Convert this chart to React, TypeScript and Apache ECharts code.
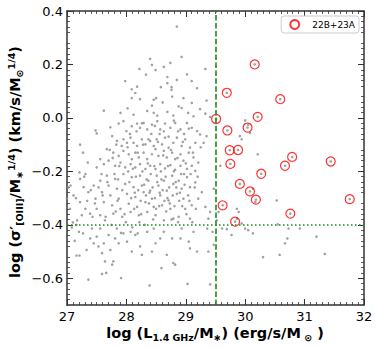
import React, { useEffect, useRef } from "react";
import * as echarts from "echarts";

const xTicks = [27, 28, 29, 30, 31, 32];
const yTicks = [-0.6, -0.4, -0.2, 0, 0.2, 0.4];
const legendName = "22B+23A";
const xCut = 29.5;
const yCut = -0.4;

const circlePts: number[][] = [
  [29.51, -0.004], [29.69, 0.094], [30.16, 0.2], [30.59, 0.07], [30.21, 0.004],
  [29.7, -0.047], [30.04, -0.036], [29.74, -0.121], [29.88, -0.12], [29.75, -0.172],
  [30.79, -0.146], [30.67, -0.179], [30.27, -0.209], [31.44, -0.163], [29.91, -0.247],
  [30.08, -0.275], [30.18, -0.306], [29.62, -0.327], [29.83, -0.388], [30.76, -0.358],
  [31.76, -0.304],
];

const grayPts: number[][] = [
  [28.85, 0.342], [28.93, 0.228], [28.40, 0.221], [28.43, 0.198], [28.74, 0.206], [28.49, 0.179],
  [28.22, 0.183], [28.63, 0.191], [29.02, 0.163], [28.33, 0.162], [29.33, 0.183], [27.98, 0.138],
  [28.69, 0.153], [28.85, 0.142], [29.10, 0.138], [28.69, 0.130], [28.18, 0.117], [28.09, 0.107],
  [28.58, 0.115], [28.76, 0.115], [28.76, 0.105], [29.19, 0.111], [28.15, 0.093], [28.09, 0.074],
  [28.23, 0.070], [28.46, 0.068], [28.50, 0.074], [28.77, 0.080], [28.96, 0.074], [28.88, 0.043],
  [28.61, 0.058], [29.10, 0.056], [29.35, 0.065], [28.43, 0.046], [27.62, 0.027], [28.02, 0.036],
  [28.35, 0.026], [28.46, 0.019], [28.69, 0.023], [28.93, 0.037], [29.04, 0.019], [29.24, 0.033],
  [28.52, 0.009], [28.79, 0.009], [29.13, 0.006], [29.33, 0.016], [27.90, 0.019], [28.12, 0.012],
  [29.41, 0.004],
  [27.22, -0.100], [27.48, -0.047], [27.50, -0.058], [27.73, -0.035], [27.87, -0.021], [27.95, -0.012],
  [28.00, -0.049], [28.09, -0.031], [28.18, -0.021], [28.23, -0.037], [28.29, -0.019], [28.35, -0.043],
  [28.43, -0.025], [28.52, -0.012], [28.57, -0.043], [28.65, -0.021], [28.74, -0.037], [28.82, -0.019],
  [28.91, -0.043], [29.02, -0.019], [29.10, -0.037], [29.19, -0.049], [29.24, -0.062], [29.35, -0.068],
  [29.30, -0.093], [27.76, -0.068], [27.84, -0.086], [27.92, -0.105], [28.01, -0.093], [28.07, -0.074],
  [28.12, -0.093], [28.18, -0.105], [28.26, -0.080], [28.32, -0.099], [28.40, -0.086], [28.46, -0.105],
  [28.51, -0.080], [28.60, -0.099], [28.65, -0.074], [28.71, -0.111], [28.79, -0.093], [28.85, -0.074],
  [28.93, -0.105], [28.99, -0.080], [29.07, -0.111], [29.16, -0.093], [27.67, -0.117], [27.78, -0.130],
  [27.87, -0.142], [27.95, -0.123], [28.04, -0.136], [28.09, -0.154], [28.15, -0.130], [28.21, -0.148],
  [28.29, -0.130], [28.35, -0.154], [28.43, -0.136], [28.49, -0.117], [28.54, -0.142], [28.63, -0.123],
  [28.68, -0.148], [28.77, -0.130], [28.82, -0.154], [28.91, -0.136], [28.96, -0.160], [29.05, -0.130],
  [29.13, -0.148], [29.21, -0.167], [27.56, -0.154], [27.50, -0.185], [27.62, -0.173], [27.70, -0.160],
  [27.81, -0.179], [27.90, -0.167], [27.98, -0.185], [28.07, -0.173], [28.15, -0.185], [28.23, -0.173],
  [28.32, -0.191], [28.40, -0.179], [28.49, -0.191], [28.57, -0.173], [28.65, -0.189], [28.74, -0.177],
  [28.82, -0.194], [28.91, -0.179], [29.02, -0.191], [29.10, -0.179], [29.16, -0.198], [27.27, -0.130],
  [27.35, -0.167],
  [27.00, -0.302], [27.06, -0.253], [27.11, -0.290], [27.21, -0.204], [27.22, -0.228], [27.31, -0.210],
  [27.28, -0.259], [27.36, -0.278], [27.22, -0.315], [27.31, -0.340], [27.39, -0.358], [27.17, -0.383],
  [27.25, -0.364], [27.45, -0.253], [27.48, -0.302], [27.50, -0.340], [27.56, -0.235], [27.59, -0.278],
  [27.62, -0.315], [27.56, -0.364], [27.64, -0.383], [27.67, -0.216], [27.70, -0.253], [27.73, -0.290],
  [27.76, -0.327], [27.78, -0.358], [27.81, -0.228], [27.84, -0.265], [27.87, -0.302], [27.90, -0.340],
  [27.93, -0.370], [27.95, -0.210], [27.98, -0.247], [28.01, -0.284], [28.04, -0.321], [28.07, -0.352],
  [28.09, -0.222], [28.12, -0.259], [28.15, -0.296], [28.18, -0.333], [28.21, -0.364], [28.23, -0.216],
  [28.26, -0.253], [28.29, -0.278], [28.32, -0.315], [28.35, -0.352], [28.37, -0.235], [28.40, -0.272],
  [28.43, -0.302], [28.46, -0.333], [28.49, -0.364], [28.51, -0.216], [28.54, -0.253], [28.57, -0.290],
  [28.60, -0.327], [28.63, -0.235], [28.68, -0.272], [28.71, -0.309], [28.74, -0.340], [28.77, -0.216],
  [28.79, -0.247], [28.85, -0.284], [28.88, -0.235], [28.93, -0.265], [28.96, -0.302], [28.99, -0.340],
  [29.02, -0.222], [29.07, -0.259], [29.10, -0.327], [29.16, -0.241], [29.21, -0.302], [29.27, -0.278],
  [29.33, -0.333], [29.38, -0.377], [29.41, -0.352], [28.79, -0.377], [28.63, -0.383], [28.88, -0.370],
  [29.07, -0.377],
  [27.10, -0.391], [27.16, -0.400], [27.20, -0.426], [27.27, -0.432], [27.16, -0.515], [27.21, -0.515],
  [27.33, -0.494], [27.36, -0.605], [27.39, -0.451], [27.42, -0.414], [27.45, -0.469], [27.50, -0.444],
  [27.53, -0.481], [27.56, -0.414], [27.59, -0.506], [27.62, -0.469], [27.64, -0.537], [27.59, -0.584],
  [27.66, -0.580], [27.70, -0.438], [27.73, -0.494], [27.76, -0.549], [27.78, -0.537], [27.81, -0.451],
  [27.84, -0.414], [27.87, -0.469], [27.91, -0.599], [27.95, -0.432], [28.01, -0.463], [28.07, -0.426],
  [28.09, -0.500], [28.15, -0.438], [28.19, -0.432], [28.23, -0.481], [28.26, -0.512], [28.35, -0.426],
  [28.39, -0.627], [28.43, -0.500], [28.46, -0.414], [28.49, -0.469], [28.57, -0.451], [28.59, -0.562],
  [28.63, -0.426], [28.68, -0.512], [28.77, -0.451], [28.79, -0.543], [28.82, -0.549], [28.91, -0.451],
  [28.93, -0.414], [29.05, -0.463], [29.07, -0.488], [29.03, -0.621], [29.13, -0.426], [29.19, -0.500],
  [29.36, -0.414], [29.38, -0.500], [29.41, -0.623], [29.47, -0.475], [29.45, -0.426],
  [29.55, -0.352], [29.52, -0.383], [29.61, -0.414], [29.69, -0.416], [29.77, -0.438], [29.86, -0.377],
  [29.89, -0.352], [29.94, -0.395], [30.00, -0.414], [30.05, -0.420], [30.13, -0.432], [30.17, -0.315],
  [29.86, -0.340], [29.91, -0.068], [29.94, -0.080], [30.21, -0.136], [30.00, -0.009], [30.05, -0.025],
  [30.08, -0.056], [30.53, -0.309], [30.55, -0.398], [30.58, -0.512], [30.67, -0.469], [30.71, -0.451],
  [30.73, -0.414], [30.92, -0.414], [31.20, -0.444], [31.34, -0.509], [30.30, -0.521], [30.13, -0.265],
  [29.58, -0.179], [29.47, -0.265],
  [27.72, -0.12], [27.80, -0.21], [27.85, -0.31], [27.88, -0.18], [27.93, -0.27], [27.97, -0.36],
  [28.02, -0.11], [28.05, -0.24], [28.08, -0.30], [28.11, -0.19], [28.13, -0.34], [28.16, -0.22],
  [28.19, -0.13], [28.20, -0.27], [28.24, -0.31], [28.27, -0.20], [28.28, -0.10], [28.30, -0.25],
  [28.33, -0.29], [28.36, -0.17], [28.38, -0.32], [28.41, -0.21], [28.42, -0.06], [28.44, -0.26],
  [28.47, -0.18], [28.48, -0.30], [28.52, -0.24], [28.53, -0.09], [28.55, -0.33], [28.58, -0.20],
  [28.61, -0.27], [28.62, -0.14], [28.64, -0.31], [28.66, -0.22], [28.70, -0.18], [28.72, -0.26],
  [28.75, -0.12], [28.78, -0.29], [28.80, -0.20], [28.83, -0.24], [28.86, -0.15], [28.89, -0.31],
  [28.92, -0.21], [28.95, -0.09], [28.98, -0.25], [29.00, -0.17], [29.04, -0.29], [29.08, -0.21],
  [29.12, -0.13], [29.15, -0.26], [29.20, -0.22], [29.25, -0.11], [27.60, -0.29], [27.65, -0.37],
  [27.68, -0.24], [27.75, -0.40], [27.82, -0.35], [27.86, -0.23], [27.91, -0.43], [27.99, -0.39],
  [28.03, -0.20], [28.10, -0.41], [28.14, -0.28], [28.22, -0.39], [28.25, -0.36], [28.31, -0.40],
  [28.34, -0.23], [28.39, -0.28], [28.45, -0.38], [28.50, -0.34], [28.56, -0.28], [28.59, -0.23],
  [28.67, -0.35], [28.69, -0.30], [28.73, -0.32], [28.76, -0.38], [28.81, -0.33], [28.84, -0.26],
  [28.87, -0.39], [28.90, -0.28], [28.94, -0.33], [28.97, -0.21], [29.01, -0.36], [29.06, -0.31],
  [29.11, -0.39], [29.17, -0.34], [28.06, -0.06], [28.17, -0.05], [28.26, -0.02], [28.37, -0.08],
  [28.48, -0.03], [28.56, -0.06], [28.63, -0.05], [28.71, -0.07], [28.80, -0.01], [28.87, -0.05],
  [28.97, -0.06], [29.05, -0.04], [27.95, -0.08], [27.83, -0.10], [27.77, -0.15], [27.58, -0.21],
  [27.53, -0.26], [27.47, -0.32], [27.43, -0.37], [27.40, -0.27], [27.34, -0.31], [27.29, -0.22],
  [27.15, -0.30], [27.05, -0.34], [27.02, -0.26], [27.08, -0.41], [27.13, -0.46],
];

const FONT = "DejaVu Sans";
const AXIS_COLOR = "#333";

function fmtY(v: number) {
  const s = Math.abs(v).toFixed(1);
  return v < -1e-9 ? "\u2212" + s : s;
}

const commonTick = { show: true, inside: true, length: 6, lineStyle: { color: AXIS_COLOR, width: 1 } };
const commonMinor = { show: true, length: 3, lineStyle: { color: AXIS_COLOR, width: 0.8 } };
const commonLine = { show: true, onZero: false, lineStyle: { color: AXIS_COLOR, width: 1.5 } };

export default function App() {
  const ref = useRef<HTMLDivElement>(null);
  useEffect(() => {
    if (!ref.current) return;
    const chart = echarts.init(ref.current, undefined, { renderer: "svg" });
    const xAxisBase = {
      type: "value" as const,
      min: xTicks[0],
      max: xTicks[xTicks.length - 1],
      interval: 1,
      splitLine: { show: false },
      axisLine: commonLine,
      axisTick: commonTick,
      minorTick: { ...commonMinor, splitNumber: 10 },
    };
    const yAxisBase = {
      type: "value" as const,
      min: -0.7,
      max: 0.4,
      interval: 0.1,
      splitLine: { show: false },
      axisLine: commonLine,
      axisTick: { ...commonTick, customValues: yTicks },
      minorTick: { ...commonMinor, splitNumber: 5 },
    };
    const subPad = { fontFamily: FONT, fontWeight: "bold" as const, fontSize: 9.5, padding: [9, 0, 0, 0], color: "#000" };
    const supPad = { fontFamily: FONT, fontWeight: "bold" as const, fontSize: 9.5, padding: [0, 0, 8, 0], color: "#000" };
    const mainTxt = { fontFamily: FONT, fontWeight: "bold" as const, fontSize: 14.5, color: "#000" };
    chart.setOption({
      animation: false,
      grid: { left: 67, right: 15, top: 11, bottom: 43 },
      legend: {
        right: 20,
        top: 16,
        data: [legendName],
        orient: "vertical",
        backgroundColor: "#fff",
        borderColor: "#ccc",
        borderWidth: 1,
        borderRadius: 3,
        padding: [3, 4, 3, 8],
        itemWidth: 9,
        itemHeight: 9,
        textStyle: { fontFamily: FONT, fontSize: 9, color: "#000", padding: [0, 0, 0, 8] },
      },
      xAxis: [
        {
          ...xAxisBase,
          position: "bottom",
          axisLabel: { fontFamily: FONT, fontSize: 13, color: "#000", margin: 5 },
        },
        {
          ...xAxisBase,
          position: "top",
          axisLabel: { show: false },
        },
      ],
      yAxis: [
        {
          ...yAxisBase,
          position: "left",
          axisLabel: {
            fontFamily: FONT,
            fontSize: 13,
            color: "#000",
            margin: 4,
            customValues: yTicks,
            formatter: (v: number) => fmtY(v),
          },
        },
        {
          ...yAxisBase,
          position: "right",
          axisLabel: { show: false },
        },
      ],
      graphic: [
        {
          type: "text",
          x: 215,
          y: 333,
          style: {
            text: "{m|log (L}{s|1.4 GHz}{m|/M}{s|\u2217}{m|) (erg/s/M}{s| \u2299}{m| )}",
            align: "center",
            verticalAlign: "middle",
            rich: { m: mainTxt, s: subPad },
          },
        },
        {
          type: "text",
          x: 15,
          y: 162,
          rotation: Math.PI / 2,
          style: {
            text: "{m|log (\u03C3\u2032}{s|[OIII]}{m|/M}{s|\u2217}{p|1/4}{m|) (km/s/M}{s|\u2299}{p|1/4}{m|)}",
            align: "center",
            verticalAlign: "middle",
            rich: { m: mainTxt, s: subPad, p: supPad },
          },
        },
      ],
      series: [
        {
          type: "scatter",
          name: "all",
          data: grayPts.concat(circlePts),
          symbol: "circle",
          symbolSize: 2.6,
          itemStyle: { color: "#8a8a8a" },
          silent: true,
          markLine: {
            silent: true,
            symbol: ["none", "none"],
            label: { show: false },
            data: [
              { xAxis: xCut, lineStyle: { color: "#1a8c1a", width: 1.6, type: [5.5, 2.4] } },
              { yAxis: yCut, lineStyle: { color: "#1a8c1a", width: 1.6, type: [1.5, 2.5] } },
            ],
          },
          z: 2,
        },
        {
          type: "scatter",
          name: legendName,
          data: circlePts,
          symbol: "circle",
          symbolSize: 9,
          itemStyle: { color: "transparent", borderColor: "#ff0000", borderWidth: 1.2 },
          z: 3,
        },
      ],
    });
    return () => chart.dispose();
  }, []);
  return <div ref={ref} style={{ position: "absolute", left: 0, top: 0, width: 379, height: 348 }} />;
}
